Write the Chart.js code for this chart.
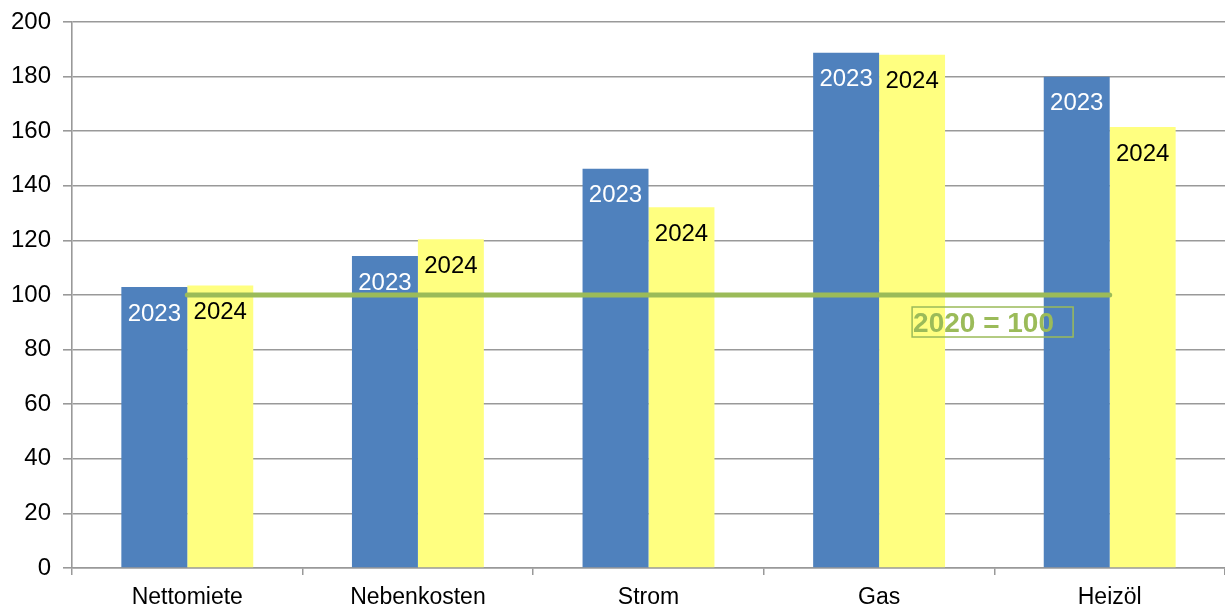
<!DOCTYPE html>
<html>
<head>
<meta charset="utf-8">
<script src="https://cdn.jsdelivr.net/npm/chart.js@4.4.1/dist/chart.umd.min.js"></script>
<style>
  html, body { margin: 0; padding: 0; background: #fff; }
  #wrap { width: 1225px; height: 610px; }
</style>
</head>
<body>
<div id="wrap"><canvas id="chart"></canvas></div>
<script>
// Werte (2020 = 100)
const kategorien = ['Nettomiete', 'Nebenkosten', 'Strom', 'Gas', 'Heizöl'];
const werte2023 = [102.9, 114.3, 146.2, 188.7, 179.9];
const werte2024 = [103.5, 120.4, 132.1, 188.0, 161.5];
const basisLinie = [100, 100, 100, 100, 100];
const basisText = '2020 = 100';

const FONT = '"Liberation Sans", Arial, sans-serif';
const GRAU = '#999999';
const GRUEN = '#9bbb59';

// Jahreszahl oben in jedem Balken
const barLabels = {
  id: 'barLabels',
  afterDatasetDraw(chart, args) {
    const ds = chart.data.datasets[args.index];
    if (ds.type === 'line') return;
    const ctx = chart.ctx;
    ctx.save();
    ctx.font = '24px ' + FONT;
    ctx.fillStyle = ds.labelColor;
    ctx.textAlign = 'center';
    ctx.textBaseline = 'middle';
    args.meta.data.forEach(bar => {
      ctx.fillText(ds.label, bar.x, bar.y + 27);
    });
    ctx.restore();
  }
};

// Kasten "2020 = 100"
const basisBox = {
  id: 'basisBox',
  afterDraw(chart) {
    const ctx = chart.ctx;
    const x = chart.scales.x.getPixelForValue(3) + 33;
    const y = chart.scales.y.getPixelForValue(100) + 12;
    ctx.save();
    ctx.strokeStyle = GRUEN;
    ctx.lineWidth = 1.5;
    ctx.strokeRect(x, y, 161, 30);
    ctx.font = 'bold 28px ' + FONT;
    ctx.fillStyle = GRUEN;
    ctx.textAlign = 'left';
    ctx.textBaseline = 'middle';
    ctx.fillText(basisText, x + 1, y + 17);
    ctx.restore();
  }
};

const ctx = document.getElementById('chart').getContext('2d');
new Chart(ctx, {
  data: {
    labels: kategorien,
    datasets: [
      {
        type: 'line',
        label: 'Basis',
        data: basisLinie,
        borderColor: GRUEN,
        borderWidth: 5,
        borderCapStyle: 'round',
        pointRadius: 0,
        order: 0
      },
      {
        type: 'bar',
        label: '2023',
        data: werte2023,
        backgroundColor: '#4f81bd',
        labelColor: '#ffffff',
        categoryPercentage: 0.572,
        barPercentage: 1.0,
        order: 1
      },
      {
        type: 'bar',
        label: '2024',
        data: werte2024,
        backgroundColor: '#ffff80',
        labelColor: '#000000',
        categoryPercentage: 0.572,
        barPercentage: 1.0,
        order: 1
      }
    ]
  },
  options: {
    responsive: true,
    maintainAspectRatio: false,
    animation: false,
    layout: { padding: { top: 22, right: 0, left: 0, bottom: 0 } },
    plugins: {
      legend: { display: false },
      tooltip: { enabled: false },
      title: { display: false }
    },
    scales: {
      x: {
        grid: {
          offset: true,
          drawOnChartArea: false,
          drawTicks: true,
          tickLength: 7,
          color: GRAU,
          lineWidth: 1.5
        },
        border: { color: GRAU, width: 1.5 },
        ticks: {
          color: '#000',
          font: { family: FONT, size: 23 },
          padding: 9
        },
        afterFit(scale) { scale.height = 42; }
      },
      y: {
        min: 0,
        max: 200,
        grid: {
          color: GRAU,
          lineWidth: 1.6,
          tickLength: 9
        },
        border: { color: GRAU, width: 1.6 },
        ticks: {
          stepSize: 20,
          color: '#000',
          font: { family: FONT, size: 24 },
          padding: 12
        },
        afterFit(scale) {
          scale.width = 72;
          scale.paddingTop = 0;
          scale.paddingBottom = 0;
        }
      }
    }
  },
  plugins: [barLabels, basisBox]
});
</script>
</body>
</html>
